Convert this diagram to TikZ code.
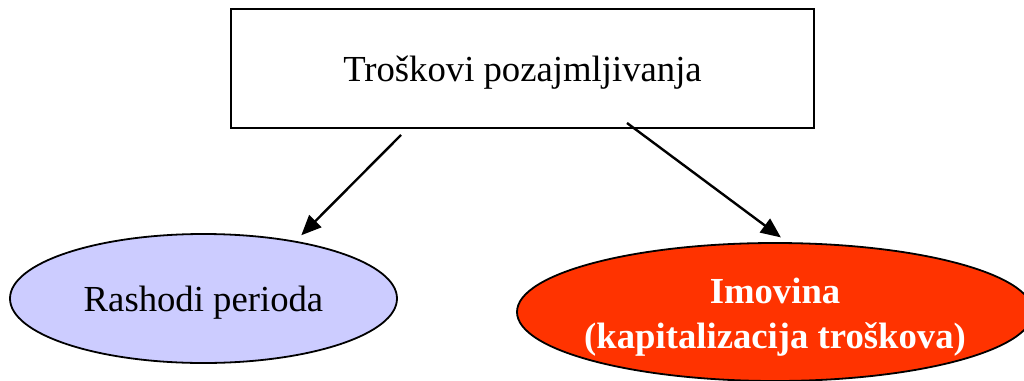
\documentclass[tikz,border=0pt]{standalone}
\usepackage{fontspec}
\setmainfont{Liberation Serif}
\usepackage{tikz}
\usetikzlibrary{arrows.meta,shapes.geometric}
\definecolor{lavanda}{HTML}{CCCCFF}
\definecolor{crvena}{HTML}{FF3300}

\begin{document}
\begin{tikzpicture}[x=1pt, y=1pt,
	kutija/.style = {draw, line width=2pt, minimum width=583pt, minimum height=119.5pt, inner sep=0pt, text height=34pt, text depth=8pt},
	elipsa/.style = {ellipse, draw, line width=1.8pt, inner sep=0pt},
	strelica/.style = {-{Triangle[length=20pt, width=17pt]}, line width=2.4pt, shorten >=8pt}]
	\useasboundingbox (0,0) rectangle (1024,-380);
	\fontsize{36.7}{45}\selectfont
	
	\node[kutija] (troskovi) at (522.5,-68.3) {Troškovi pozajmljivanja};
	\node[elipsa, fill=lavanda, minimum width=387pt, minimum height=129pt, text height=34pt, text depth=8pt] (rashodi) at (203.5,-298.5) {Rashodi perioda};
	\node[elipsa, fill=crvena, minimum width=516pt, minimum height=138pt, inner xsep=-20pt, text height=80pt, text depth=8pt, align=center, text=white, font=\bfseries] (imovina) at (775,-312) {Imovina\\(kapitalizacija troškova)};
	
	\coordinate (lijevo) at (401,-135);
	\coordinate (desno) at (627,-123);
	\draw[strelica] (lijevo) -- (rashodi.32);
	\draw[strelica] (desno) -- (imovina.80);
	
\end{tikzpicture}
\end{document}
